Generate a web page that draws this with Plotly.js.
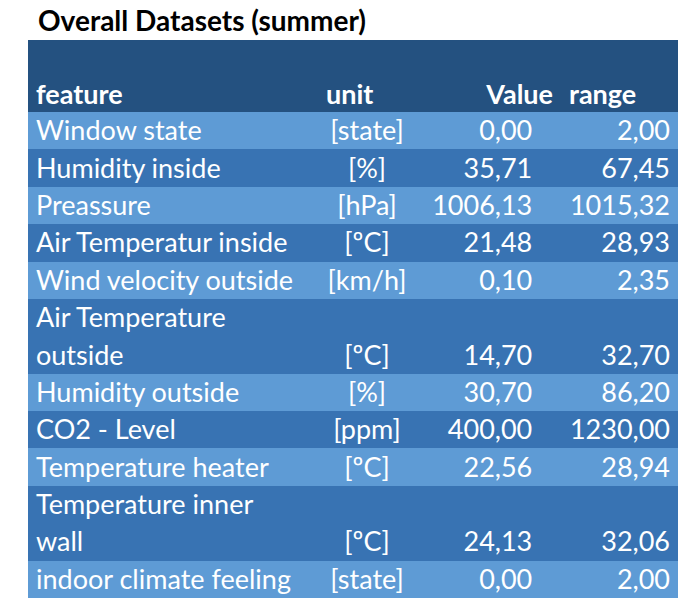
<!DOCTYPE html>
<html>
<head>
<meta charset="utf-8">
<script src="https://cdn.plot.ly/plotly-3.0.1.min.js"></script>
<style>
  body { margin: 0; background: #fff; }
  #myDiv { width: 694px; height: 612px; }
</style>
</head>
<body>
<div id="myDiv"></div>
<script>
var features = ["Window state", "Humidity inside", "Preassure", "Air Temperatur inside",
        "Wind velocity outside", "Air Temperature<br>outside", "Humidity outside",
        "CO2 - Level", "Temperature heater", "Temperature inner<br>wall",
        "indoor climate feeling"]
var units = ["[state]", "[%]", "[hPa]", "[ºC]", "[km/h]", "[ºC]",
        "[%]", "[ppm]", "[ºC]", "[ºC]", "[state]"]
var minValues = [0.00, 35.71, 1006.13, 21.48, 0.10, 14.70,
        30.70, 400.00, 22.56, 24.13, 0.00]
var maxValues = [2.00, 67.45, 1015.32, 28.93, 2.35, 32.70,
        86.20, 1230.00, 28.94, 32.06, 2.00]
var headers = [["", "feature"], ["", "unit"], ["", "Value"], ["", "range"]]

var lightRow = '#5e9bd5'
var darkRow = '#3873b3'
var headerColor = '#245180'

function comma(v) { return v.toFixed(2).replace('.', ',') }

// wrapped names take two table lines; the numbers sit on the second one
var colFeature = [], colUnit = [], colMin = [], colMax = [], rowColors = []
features.forEach(function(f, i) {
    var parts = f.split('<br>')
    var color = i % 2 == 0 ? lightRow : darkRow
    for (var k = 0; k < parts.length; k++) {
        var last = k == parts.length - 1
        colFeature.push(parts[k])
        colUnit.push(last ? units[i] : '')
        colMin.push(last ? comma(minValues[i]) : '')
        colMax.push(last ? comma(maxValues[i]) : '')
        rowColors.push(color)
    }
})
var rowH = (558 - 72) / colFeature.length

var trace1 = {
    type: 'table',
    columnwidth: [290, 98, 145, 117],
    header: {
        values: headers,
        align: ['left', 'left', 'right', 'left'],
        height: 36,
        fill: { color: headerColor },
        line: { width: 0, color: headerColor },
        font: { family: 'Lato', size: 27, color: 'white', weight: 'bold' }
    },
    cells: {
        values: [colFeature, colUnit, colMin, colMax],
        suffix: ['', '', '\u00a0\u00a0\u00a0', ''],
        align: ['left', 'center', 'right', 'right'],
        height: rowH,
        fill: { color: [rowColors, rowColors, rowColors, rowColors] },
        line: { width: 0, color: [rowColors, rowColors, rowColors, rowColors] },
        font: { family: 'Lato', size: 27, color: 'white' }
    },
    domain: { x: [0, 1], y: [0, 1] }
}

var data = [ trace1 ]

var layout = {
    width: 694,
    height: 612,
    margin: { l: 28, r: 16, t: 40, b: 14 },
    paper_bgcolor: 'white',
    title: {
        text: '<b>Overall Datasets (summer)</b>',
        font: { family: 'Lato', size: 28, color: 'black' },
        x: 38 / 694,
        xanchor: 'left',
        xref: 'container',
        y: 1 - 21 / 612,
        yanchor: 'middle'
    }
}

Plotly.newPlot('myDiv', data, layout, { displayModeBar: false })
</script>
</body>
</html>
